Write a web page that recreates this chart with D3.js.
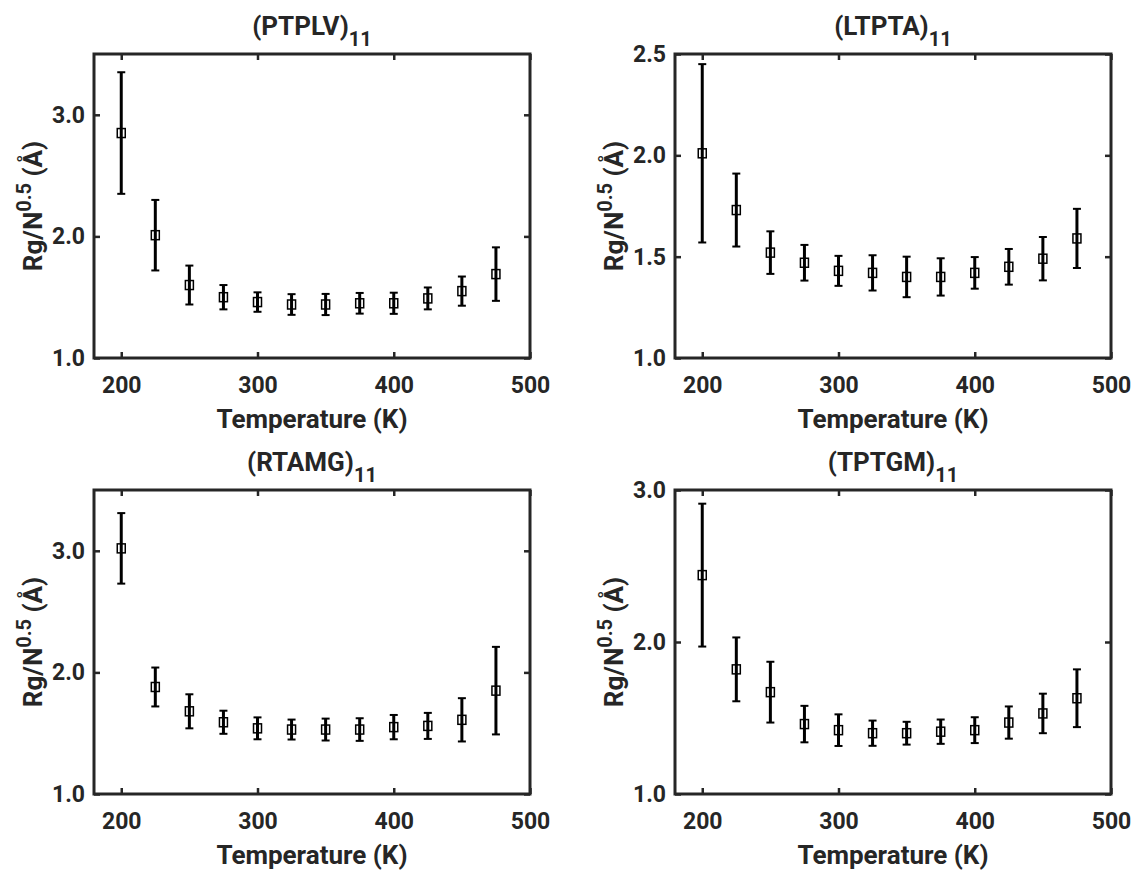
<!DOCTYPE html>
<html>
<head>
<meta charset="utf-8">
<script src="https://cdn.jsdelivr.net/npm/d3@7"></script>
<style>
  body { margin: 0; background: #fff; }
  text { font-family: Roboto, "Noto Sans", sans-serif; font-weight: 700; fill: #262626; }
</style>
</head>
<body>
<script>
const temps = [200, 225, 250, 275, 300, 325, 350, 375, 400, 425, 450, 475];

const names = ["PTPLV", "LTPTA", "RTAMG", "TPTGM"];

// mean Rg/N^0.5 and error (half-width)
const ptplvMean = [2.85, 2.01, 1.60, 1.50, 1.46, 1.44, 1.44, 1.45, 1.45, 1.49, 1.55, 1.69];
const ptplvErr  = [0.50, 0.29, 0.16, 0.10, 0.08, 0.085, 0.087, 0.085, 0.087, 0.09, 0.12, 0.22];

const ltptaMean = [2.01, 1.73, 1.52, 1.47, 1.43, 1.42, 1.40, 1.40, 1.42, 1.45, 1.49, 1.59];
const ltptaErr  = [0.44, 0.18, 0.105, 0.088, 0.074, 0.087, 0.10, 0.092, 0.078, 0.088, 0.107, 0.146];

const rtamgMean = [3.02, 1.88, 1.68, 1.59, 1.54, 1.53, 1.53, 1.53, 1.55, 1.56, 1.61, 1.85];
const rtamgErr  = [0.29, 0.16, 0.14, 0.095, 0.09, 0.082, 0.09, 0.093, 0.10, 0.107, 0.178, 0.36];

const tptgmMean = [2.44, 1.82, 1.67, 1.46, 1.42, 1.40, 1.40, 1.41, 1.42, 1.47, 1.53, 1.63];
const tptgmErr  = [0.47, 0.21, 0.20, 0.12, 0.104, 0.083, 0.075, 0.08, 0.085, 0.106, 0.13, 0.19];

const yDomains = [[1, 3.5], [1, 2.5], [1, 3.5], [1, 3]];
const yTicks = [[1, 2, 3], [1, 1.5, 2, 2.5], [1, 2, 3], [1, 2, 3]];
const xTicks = [200, 300, 400, 500];

const means = [ptplvMean, ltptaMean, rtamgMean, tptgmMean];
const errs = [ptplvErr, ltptaErr, rtamgErr, tptgmErr];

const panels = [
  {left: 94, top: 54},
  {left: 675, top: 54},
  {left: 94, top: 490},
  {left: 675, top: 490}
];
const pw = 436, ph = 304;
const ink = "#262626";

const svg = d3.select("body").append("svg")
    .attr("width", 1143)
    .attr("height", 873);

panels.forEach((p, i) => {
  const g = svg.append("g").attr("transform", "translate(" + p.left + "," + p.top + ")");

  const x = d3.scaleLinear().domain([180, 500]).range([0, pw]);
  const y = d3.scaleLinear().domain(yDomains[i]).range([ph, 0]);

  const data = temps.map((t, j) => ({t: t, m: means[i][j], e: errs[i][j]}));

  // axes with inward ticks
  g.append("g").attr("transform", "translate(0," + ph + ")")
      .call(d3.axisBottom(x).tickValues(xTicks).tickSizeInner(-6).tickSizeOuter(0).tickPadding(19));
  g.append("g")
      .call(d3.axisLeft(y).tickValues(yTicks[i]).tickFormat(d3.format(".1f"))
        .tickSizeInner(-6).tickSizeOuter(0).tickPadding(9));
  g.append("g").call(d3.axisTop(x).tickValues(xTicks).tickSizeInner(-6).tickSizeOuter(0).tickFormat(""));
  g.append("g").attr("transform", "translate(" + pw + ",0)")
      .call(d3.axisRight(y).tickValues(yTicks[i]).tickSizeInner(-6).tickSizeOuter(0).tickFormat(""));

  g.selectAll(".domain").remove();
  g.selectAll(".tick line").attr("stroke", ink).attr("stroke-width", 2.5);
  g.selectAll(".tick text").style("font-size", "23px").attr("fill", ink);

  g.append("rect")
      .attr("width", pw).attr("height", ph)
      .attr("fill", "none").attr("stroke", ink).attr("stroke-width", 3);

  // error bars
  const bars = g.selectAll(".bar").data(data).enter().append("g");
  bars.append("line")
      .attr("x1", d => x(d.t)).attr("x2", d => x(d.t))
      .attr("y1", d => y(d.m - d.e)).attr("y2", d => y(d.m + d.e))
      .attr("stroke", "#000").attr("stroke-width", 3);
  [-1, 1].forEach(s => {
    bars.append("line")
        .attr("x1", d => x(d.t) - 4).attr("x2", d => x(d.t) + 4)
        .attr("y1", d => y(d.m + s * d.e)).attr("y2", d => y(d.m + s * d.e))
        .attr("stroke", "#000").attr("stroke-width", 2);
  });

  // open square markers
  g.selectAll(".mk").data(data).enter().append("rect")
      .attr("x", d => x(d.t) - 4).attr("y", d => y(d.m) - 4.5)
      .attr("width", 8).attr("height", 9)
      .attr("fill", "none").attr("stroke", "#000").attr("stroke-width", 1.5);

  // title with subscript
  const title = g.append("text")
      .attr("x", pw / 2).attr("y", -19)
      .attr("text-anchor", "middle")
      .style("font-size", "26px");
  title.append("tspan").text("(" + names[i] + ")");
  title.append("tspan").attr("dy", 11).style("font-size", "20px").text("11");

  // x label
  g.append("text")
      .attr("x", pw / 2).attr("y", ph + 70)
      .attr("text-anchor", "middle")
      .style("font-size", "26px")
      .text("Temperature (K)");

  // y label
  const yl = g.append("text")
      .attr("transform", "rotate(-90)")
      .attr("x", -ph / 2).attr("y", -52)
      .attr("text-anchor", "middle")
      .style("font-size", "26px");
  yl.append("tspan").text("Rg/N");
  yl.append("tspan").attr("dy", -11).style("font-size", "20px").text("0.5");
  yl.append("tspan").attr("dy", 11).text(" (Å)");
});
</script>
</body>
</html>
